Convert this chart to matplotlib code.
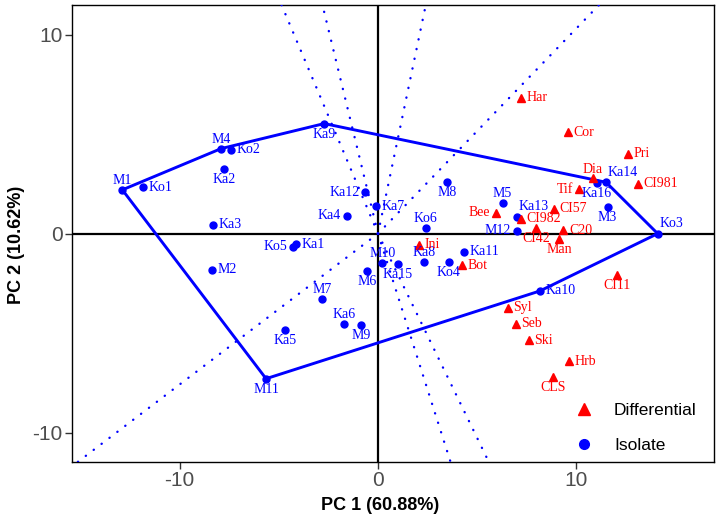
"""
PCA score plot: isolates (blue) with convex hull, differential samples (red), loading rays
"""
import matplotlib

matplotlib.use("Agg")
import matplotlib.pyplot as plt
from matplotlib.lines import Line2D

plt.rcParams['axes.unicode_minus'] = False

BLUE = '#0000FF'
RED = '#FF0000'

# isolate scores
iso_names = ['M1', 'Ko1', 'M4', 'Ko2', 'Ka2', 'Ka3', 'Ko5', 'Ka1', 'M2', 'Ka9', 'Ka12', 'Ka7',
             'Ka4', 'Ko6', 'M8', 'M10', 'Ka15', 'Ka8', 'Ko4', 'Ka11', 'M6', 'M7', 'Ka6', 'M9',
             'Ka5', 'M11', 'Ka10', 'M5', 'Ka13', 'M12', 'M3', 'Ka16', 'Ka14', 'Ko3']
iso_pc1 = [-12.88, -11.84, -7.91, -7.42, -7.77, -8.30, -4.28, -4.13, -8.38, -2.71, -0.65, -0.12,
           -1.58, 2.40, 3.48, 0.22, 0.99, 2.33, 3.56, 4.32, -0.57, -2.82, -1.70, -0.84,
           -4.69, -5.64, 8.16, 6.28, 7.02, 7.00, 11.57, 11.03, 11.49, 14.09]
iso_pc2 = [2.20, 2.33, 4.27, 4.21, 3.25, 0.44, -0.67, -0.54, -1.82, 5.53, 2.08, 1.38,
           0.89, 0.30, 2.61, -1.49, -1.51, -1.44, -1.42, -0.90, -1.87, -3.27, -4.55, -4.59,
           -4.84, -7.29, -2.88, 1.54, 0.84, 0.15, 1.33, 2.53, 2.58, 0.00]

# differential scores
dif_names = ['Har', 'Cor', 'Pri', 'Dia', 'CI981', 'Tif', 'Bee', 'CI57', 'CI982', 'CI42', 'C20',
             'Man', 'Ini', 'Bot', 'CI11', 'Syl', 'Seb', 'Ski', 'Hrb', 'CLS']
dif_pc1 = [7.19, 9.56, 12.58, 10.82, 13.08, 10.13, 5.94, 8.87, 7.20, 7.96, 9.34,
           9.12, 2.05, 4.22, 12.06, 6.53, 6.95, 7.61, 9.61, 8.83]
dif_pc2 = [6.83, 5.10, 4.01, 2.78, 2.51, 2.23, 1.06, 1.26, 0.75, 0.27, 0.17,
           -0.27, -0.57, -1.59, -2.08, -3.72, -4.54, -5.36, -6.41, -7.20]

# loading directions (dotted rays from the origin)
ray_pc1 = [-4.77, -2.79, 2.40, 7.24, -14.62, 3.58, 5.41]
ray_pc2 = [11.28, 11.46, 11.46, 7.47, -11.09, -11.24, -11.12]

# label placement: r=right, l=left, t=top, b=bottom
label_side = {
    'M1': 't', 'Ko1': 'r', 'M4': 't', 'Ko2': 'r', 'Ka2': 'b', 'Ka3': 'r', 'Ko5': 'l', 'Ka1': 'r',
    'M2': 'r', 'Ka9': 'b', 'Ka12': 'l', 'Ka7': 'r', 'Ka4': 'l', 'Ko6': 't', 'M8': 'b', 'M10': 't',
    'Ka15': 'b', 'Ka8': 't', 'Ko4': 'b', 'Ka11': 'r', 'M6': 'b', 'M7': 't', 'Ka6': 't', 'M9': 'b',
    'Ka5': 'b', 'M11': 'b', 'Ka10': 'r', 'M5': 't', 'Ka13': 'tr', 'M12': 'l', 'M3': 'b',
    'Ka16': 'b', 'Ka14': 'tr', 'Ko3': 'tr',
    'Har': 'r', 'Cor': 'r', 'Pri': 'r', 'Dia': 't', 'CI981': 'r', 'Tif': 'l', 'Bee': 'l',
    'CI57': 'r', 'CI982': 'r', 'CI42': 'b', 'C20': 'r', 'Man': 'b', 'Ini': 'r', 'Bot': 'r',
    'CI11': 'b', 'Syl': 'r', 'Seb': 'r', 'Ski': 'r', 'Hrb': 'r', 'CLS': 'b',
}
side_fmt = {
    'r': ((4, 0), 'left', 'center'),
    'l': ((-4, 0), 'right', 'center'),
    't': ((0, 2), 'center', 'bottom'),
    'b': ((0, -3), 'center', 'top'),
    'tr': ((1, 2.5), 'left', 'bottom'),
}


def convex_hull(xs, ys):
    pts = sorted(zip(xs, ys))

    def cross(o, a, b):
        return (a[0] - o[0]) * (b[1] - o[1]) - (a[1] - o[1]) * (b[0] - o[0])

    lower, upper = [], []
    for p in pts:
        while len(lower) >= 2 and cross(lower[-2], lower[-1], p) <= 0:
            lower.pop()
        lower.append(p)
    for p in reversed(pts):
        while len(upper) >= 2 and cross(upper[-2], upper[-1], p) <= 0:
            upper.pop()
        upper.append(p)
    hull = lower[:-1] + upper[:-1]
    return hull + [hull[0]]


fig = plt.figure(figsize=(7.19, 5.17), dpi=100)
ax = fig.add_axes([0.1006, 0.107, 0.8925, 0.8834])
ax.set_xlim(-15.40, 16.93)
ax.set_ylim(-11.46, 11.49)

# zero lines
ax.axhline(0, color='black', lw=1.6, zorder=2)
ax.axvline(0, color='black', lw=1.6, zorder=2)

# loading rays
for dx, dy in zip(ray_pc1, ray_pc2):
    ax.plot([0, 3 * dx], [0, 3 * dy], color=BLUE, lw=1.7, linestyle=(0, (0.1, 4.1)),
            dash_capstyle='round', zorder=3)

# hull of the isolates
hull = convex_hull(iso_pc1, iso_pc2)
ax.plot([p[0] for p in hull], [p[1] for p in hull], color=BLUE, lw=2.1, zorder=4,
        solid_joinstyle='round')

ax.plot(iso_pc1, iso_pc2, 'o', color=BLUE, ms=5, zorder=5)
ax.plot(dif_pc1, dif_pc2, '^', color=RED, ms=5.5, zorder=5)

for names, xs, ys, col in [(iso_names, iso_pc1, iso_pc2, BLUE), (dif_names, dif_pc1, dif_pc2, RED)]:
    for n, x, y in zip(names, xs, ys):
        off, ha, va = side_fmt[label_side[n]]
        ax.annotate(n, (x, y), xytext=off, textcoords='offset points', ha=ha, va=va,
                    color=col, fontsize=10, family='Liberation Serif', zorder=6)

# axes styling
for s in ax.spines.values():
    s.set_color('black')
    s.set_linewidth(1.0)
ax.set_xticks([-10, 0, 10])
ax.set_yticks([-10, 0, 10])
ax.tick_params(length=5, width=1, color='#333333', labelcolor='#4D4D4D', labelsize=15, pad=2)
for lab in ax.get_xticklabels() + ax.get_yticklabels():
    lab.set_family('Liberation Sans')

fig.text(380 / 719, 12 / 517, 'PC 1 (60.88%)', ha='center', va='center', fontsize=13,
         fontweight='bold', family='Liberation Sans')
fig.text(17 / 719, 1 - 245 / 517, 'PC 2 (10.62%)', ha='center', va='center', rotation=90,
         fontsize=13, fontweight='bold', family='Liberation Sans')

handles = [Line2D([], [], marker='^', color=RED, ls='', ms=8),
           Line2D([], [], marker='o', color=BLUE, ls='', ms=7)]
ax.legend(handles, ['Differential', 'Isolate'], loc='upper left', bbox_to_anchor=(0.771, 0.147),
          frameon=False, borderpad=0, handlelength=1, handletextpad=1.2, labelspacing=1.15,
          prop={'family': 'Liberation Sans', 'size': 12.5})

plt.savefig('out.png', dpi=100)
